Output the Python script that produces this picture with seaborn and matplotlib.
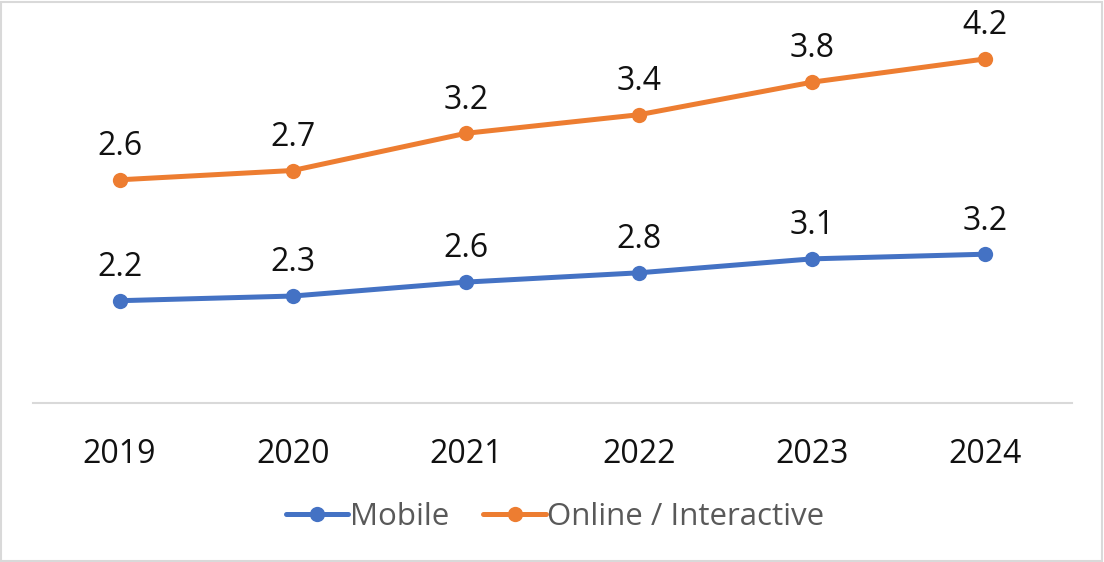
import pandas as pd
import numpy as np
import matplotlib
matplotlib.use("Agg")
import matplotlib.pyplot as plt
import seaborn as sns
from matplotlib.patches import Rectangle

# Data (stacked line chart: online series is drawn on top of mobile)

years = ["2019", "2020", "2021", "2022", "2023", "2024"]
mobile = [2.2, 2.3, 2.6, 2.8, 3.1, 3.2]
online = [2.6, 2.7, 3.2, 3.4, 3.8, 4.2]
series_names = ["Mobile", "Online / Interactive"]
colors = ["#4472C4", "#ED7D31"]

stacked_online = np.array(mobile) + np.array(online)

df = pd.DataFrame({
    "Year": years + years,
    "Series": [series_names[0]] * len(years) + [series_names[1]] * len(years),
    "Plotted": list(mobile) + list(stacked_online),
    "Label": list(mobile) + list(online)
})

# Style

sns.set_theme(style="white")
plt.rcParams["font.family"] = ["Open Sans", "DejaVu Sans"]

fig = plt.figure(figsize=(11.04, 5.62), dpi=100)
ax = fig.add_axes([33 / 1104, 1 - 403 / 562, 1039 / 1104, 372 / 562])

sns.lineplot(
    data=df,
    x="Year",
    y="Plotted",
    hue="Series",
    palette=colors,
    marker="o",
    markersize=11,
    markeredgewidth=0,
    linewidth=3.6,
    ax=ax,
    legend=False
)

# Data labels

for _, row in df.iterrows():
    ax.annotate(
        f"{row['Label']:.1f}",
        xy=(years.index(row["Year"]), row["Plotted"]),
        xytext=(0, 12),
        textcoords="offset points",
        ha="center",
        va="bottom",
        fontsize=23,
        color="#111111"
    )

ax.set_xlim(-0.5, 5.5)
ax.set_ylim(0, 8)
ax.set_xlabel("")
ax.set_ylabel("")
ax.set_yticks([])

for side in ["top", "right", "left"]:
    ax.spines[side].set_visible(False)
ax.spines["bottom"].set_color("#D9D9D9")
ax.spines["bottom"].set_linewidth(1.5)

ax.tick_params(axis="x", length=0, pad=25, labelsize=23, labelcolor="#111111")

# Legend

handles = [
    plt.Line2D([], [], color=c, linewidth=3.6, marker="o", markersize=11, markeredgewidth=0)
    for c in colors
]
fig.legend(
    handles,
    series_names,
    loc="center",
    bbox_to_anchor=(555 / 1104, 1 - 517 / 562),
    ncol=2,
    frameon=False,
    fontsize=22.5,
    labelcolor="#595959",
    handlelength=2.0,
    handletextpad=0.05,
    columnspacing=1.1
)

# Chart border

fig.patches.append(
    Rectangle((0.001, 0.002), 0.997, 0.995, transform=fig.transFigure,
              fill=False, edgecolor="#D9D9D9", linewidth=1.5)
)

plt.savefig("out.png", dpi=100)
